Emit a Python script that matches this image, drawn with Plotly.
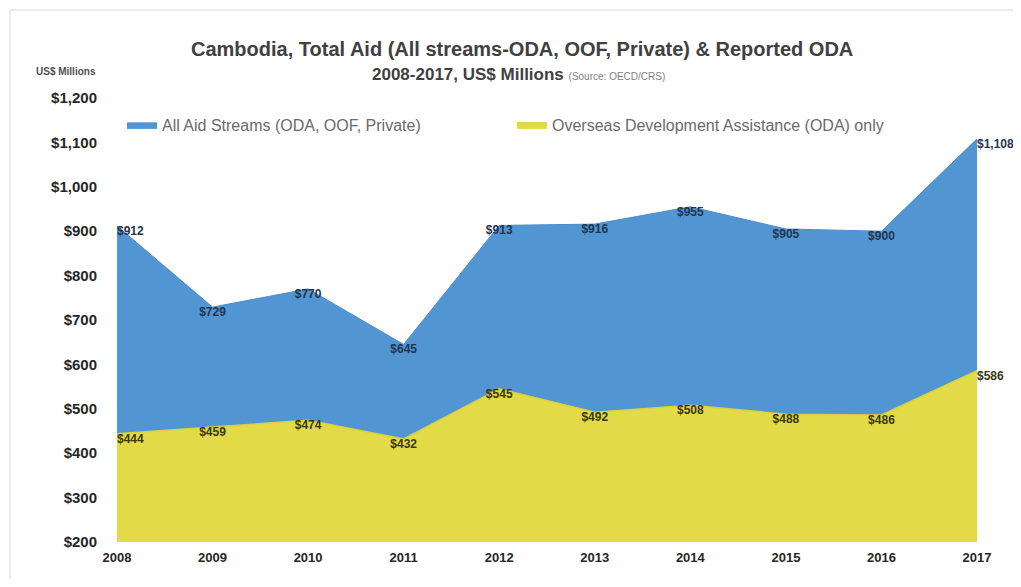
import plotly.graph_objects as go

years = [2008, 2009, 2010, 2011, 2012, 2013, 2014, 2015, 2016, 2017]
total_aid = [912, 729, 770, 645, 913, 916, 955, 905, 900, 1108]
oda_only = [444, 459, 474, 432, 545, 492, 508, 488, 486, 586]
y_ticks = [200, 300, 400, 500, 600, 700, 800, 900, 1000, 1100, 1200]

def fmt(v):
    return "${:,}".format(v)

FONT = "Liberation Sans, Arial, sans-serif"

# page has an 8px body margin; work in page pixels and convert
OFF = 8
W, H = 1021 - 2 * OFF, 587 - 2 * OFF
L, R, T, B = 112 - OFF, 1021 - 982 - OFF, 98 - OFF, 587 - 542 - OFF
pw = W - L - R
ph = H - T - B

def px(x):
    return (x - OFF - L) / pw

def py(y):
    return (H - B - (y - OFF)) / ph

pos = ["bottom right"] + ["bottom center"] * 8 + ["bottom right"]

fig = go.Figure()
fig.add_trace(go.Scatter(
    x=years, y=total_aid, name="All Aid Streams (ODA, OOF, Private)",
    mode="lines+text", fill="tozeroy", fillcolor="#5196D3",
    line=dict(color="#4A8CCB", width=1),
    text=["<b>" + fmt(v) + "</b>" for v in total_aid], textposition=pos,
    textfont=dict(family=FONT, size=12, color="#1F3550"),
    cliponaxis=False,
))
fig.add_trace(go.Scatter(
    x=years, y=oda_only, name="Overseas Development Assistance (ODA) only",
    mode="lines+text", fill="tozeroy", fillcolor="#E3DA48",
    line=dict(color="#D9D23E", width=1.5),
    text=["<b>" + fmt(v) + "</b>" for v in oda_only], textposition=pos,
    textfont=dict(family=FONT, size=12, color="#3A3810"),
    cliponaxis=False,
))

fig.update_layout(
    width=W, height=H,
    paper_bgcolor="white", plot_bgcolor="white",
    margin=dict(l=L, r=R, t=T, b=B),
    font=dict(family=FONT, size=12, color="#404040"),
    showlegend=True,
    legend=dict(orientation="h", x=px(122), y=py(108), xanchor="left", yanchor="top",
                bgcolor="rgba(255,255,255,0)",
                font=dict(family=FONT, size=16, color="#6A6A6A"),
                entrywidthmode="pixels", entrywidth=345),
    xaxis=dict(range=[2007.948, 2017.052], tickvals=years,
               ticktext=["<b>%d</b>" % y for y in years],
               showgrid=False, zeroline=False, showline=False,
               ticklabelstandoff=6,
               tickfont=dict(family=FONT, size=13, color="#262626")),
    yaxis=dict(range=[200, 1200], tickvals=y_ticks,
               ticktext=["<b>" + fmt(v) + "</b>" for v in y_ticks],
               showgrid=False, zeroline=False, showline=False,
               ticklabelstandoff=14,
               tickfont=dict(family=FONT, size=15, color="#262626")),
    annotations=[
        dict(text="<b>Cambodia, Total Aid (All streams-ODA, OOF, Private) &amp; Reported ODA</b>",
             x=px(522), y=py(49), xref="paper", yref="paper", showarrow=False,
             xanchor="center", yanchor="middle",
             font=dict(family=FONT, size=20, color="#404040")),
        dict(text="<b>2008-2017, US$ Millions</b> <span style='font-size:10px;color:#808080'>(Source: OECD/CRS)</span>",
             x=px(518), y=py(74), xref="paper", yref="paper", showarrow=False,
             xanchor="center", yanchor="middle",
             font=dict(family=FONT, size=17, color="#404040")),
        dict(text="<b>US$ Millions</b>", x=px(66), y=py(72), xref="paper", yref="paper",
             showarrow=False, xanchor="center", yanchor="middle",
             font=dict(family=FONT, size=10, color="#505050")),
    ],
)

fig.add_shape(type="rect", xref="paper", yref="paper",
              x0=px(10), x1=px(1015), y0=py(582), y1=py(10),
              line=dict(color="#D9D9D9", width=1), layer="below")

fig.write_html("out.html")
